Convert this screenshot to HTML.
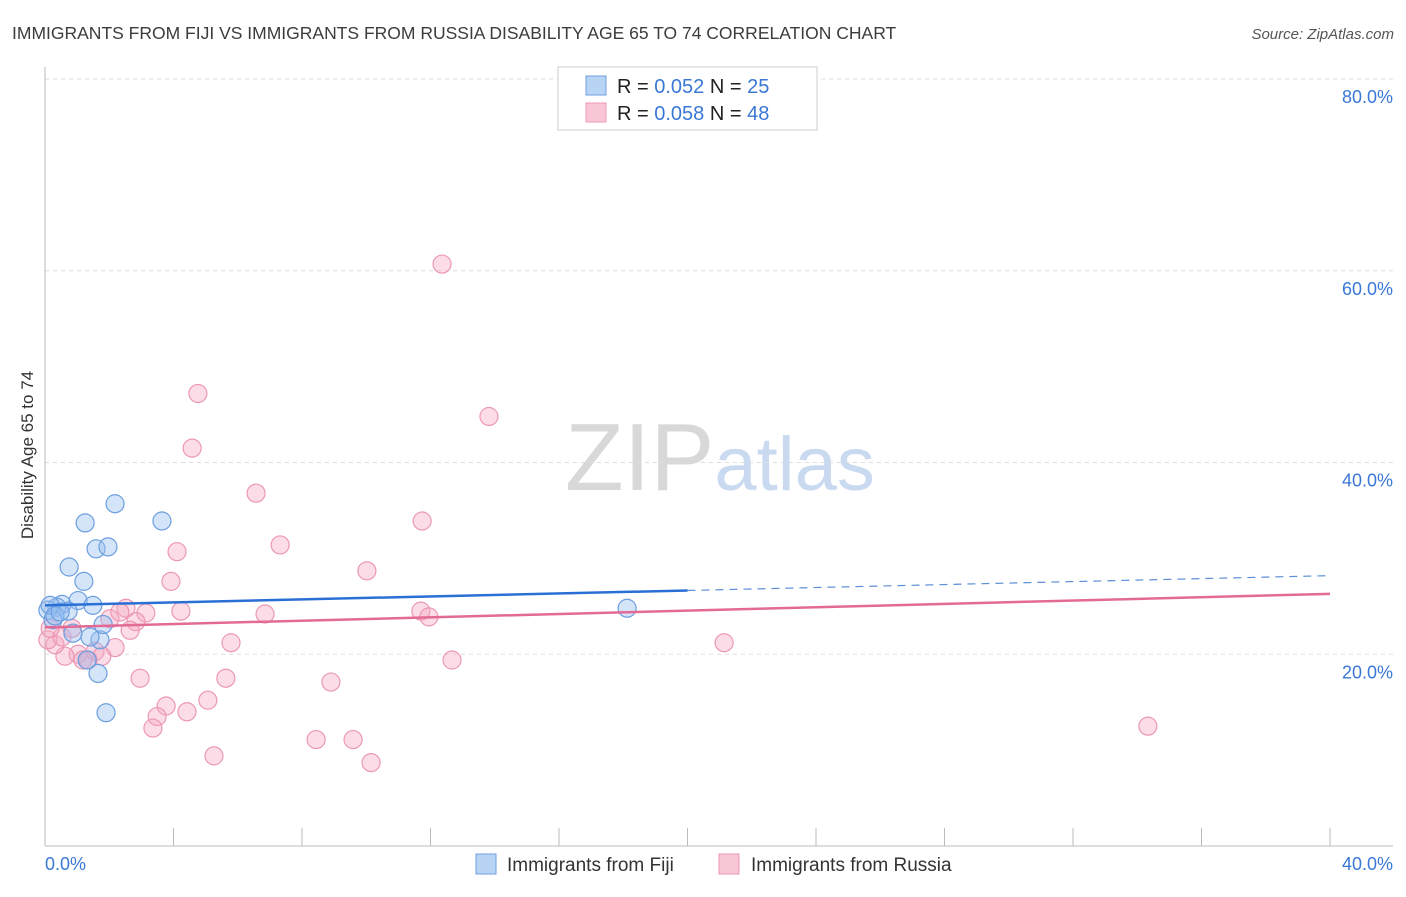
<!DOCTYPE html>
<html><head><meta charset="utf-8"><style>
body{margin:0;background:#fff;font-family:"Liberation Sans",sans-serif;}
svg text{font-family:"Liberation Sans",sans-serif;}
</style></head><body>
<svg id="chart" width="1406" height="892" viewBox="0 0 1406 892">
<text x="12" y="39" font-size="17.5" fill="#3c3c3c">IMMIGRANTS FROM FIJI VS IMMIGRANTS FROM RUSSIA DISABILITY AGE 65 TO 74 CORRELATION CHART</text>
<text x="1394" y="39" font-size="15" fill="#555" text-anchor="end" font-style="italic">Source: ZipAtlas.com</text>
<text x="720" y="490" font-size="96" fill="#ddd" text-anchor="middle" font-family="Liberation Serif"><tspan fill="#d8d8d8">ZIP</tspan><tspan fill="#c9daf0" font-family="Liberation Sans" font-size="76">atlas</tspan></text>
<text transform="translate(33,455) rotate(-90)" font-size="17" fill="#333" text-anchor="middle">Disability Age 65 to 74</text>
<g id="grid"></g><g id="axes"></g><g id="marks"></g>
<g>
<rect x="558" y="67" width="259" height="63" fill="#fff" stroke="#ccc"/>
<rect x="586" y="76" width="20" height="19" fill="#b8d4f5" stroke="#6c9fe0"/>
<rect x="586" y="103" width="20" height="19" fill="#f9c6d6" stroke="#ec98b4"/>
<text x="617" y="93" font-size="20" fill="#222">R = <tspan fill="#3a78d6">0.052</tspan>    N = <tspan fill="#3a78d6">25</tspan></text>
<text x="617" y="120" font-size="20" fill="#222">R = <tspan fill="#3a78d6">0.058</tspan>    N = <tspan fill="#3a78d6">48</tspan></text>
</g>
<g>
<rect x="476" y="854" width="20" height="20" fill="#b8d4f5" stroke="#6c9fe0"/>
<text x="507" y="871" font-size="19" fill="#333">Immigrants from Fiji</text>
<rect x="719" y="854" width="20" height="20" fill="#f9c6d6" stroke="#ec98b4"/>
<text x="751" y="871" font-size="19" fill="#333">Immigrants from Russia</text>
</g>
</svg>
<script>
const xTicks=[0,40];
const yTicks=[20,40,60,80];
const fijiX=[2.18,1.25,3.64,1.59,1.96,0.75,1.21,0.53,1.03,1.49,0.37,0.09,0.25,0.72,1.71,1.40,0.87,1.81,1.31,1.65,1.90,18.12,0.16,0.31,0.47];
const fijiY=[35.7,33.7,33.9,31.0,31.2,29.1,27.6,25.2,25.6,25.1,24.9,24.6,23.6,24.5,21.5,21.8,22.2,23.1,19.4,18.0,13.9,24.8,25.1,24.0,24.4];
const russiaX=[12.36,4.76,4.58,13.82,6.57,11.74,4.11,7.32,3.92,10.02,2.52,3.14,4.23,6.85,11.70,11.95,2.02,2.83,2.65,5.79,2.18,21.14,12.67,1.56,1.03,0.62,0.31,0.09,0.53,1.77,2.96,5.63,8.90,5.07,3.77,3.49,4.42,3.36,8.44,9.59,5.26,10.15,34.33,1.18,0.84,2.33,0.16,1.34];
const russiaY=[60.7,47.2,41.5,44.8,36.8,33.9,30.7,31.4,27.6,28.7,24.8,24.3,24.5,24.2,24.5,23.9,23.7,23.4,22.5,21.2,20.7,21.2,19.4,20.3,20.0,19.8,21.0,21.5,21.8,19.8,17.5,17.5,17.1,15.2,14.6,13.5,14.0,12.3,11.1,11.1,9.4,8.7,12.5,19.4,22.7,24.4,22.7,19.4];
const fijiTrend=[25.1,28.2];
const russiaTrend=[22.8,26.3];
const NS="http://www.w3.org/2000/svg";
const sx=v=>45+v*(1330-45)/40;
const sy=v=>846-v*(846-79)/80;
function mk(tag,attrs,parent){const e=document.createElementNS(NS,tag);for(const k in attrs)e.setAttribute(k,attrs[k]);document.getElementById(parent).appendChild(e);return e;}
yTicks.forEach(t=>{
 const l=mk('line',{x1:45,x2:1393,y1:sy(t),y2:sy(t),stroke:'#ddd','stroke-dasharray':'4,4'},'grid');
 
 
 const tx=mk('text',{x:1393,y:sy(t)+24,'font-size':18,fill:'#3a78d6','text-anchor':'end'},'grid');
 tx.textContent=t.toFixed(1)+'%';
 
 
});
const ax=mk('line',{x1:45,x2:45,y1:67,y2:846,stroke:'#bbb'},'axes');


const bx=mk('line',{x1:45,x2:1393,y1:846,y2:846,stroke:'#bbb'},'axes');


for(let i=0;i<=10;i++){
 const t=mk('line',{x1:sx(i*4),x2:sx(i*4),y1:828,y2:846,stroke:'#bbb'},'axes');
 
 
}
xTicks.forEach((t,i)=>{
 const tx=mk('text',{x:i?1393:45,y:870,'font-size':18,fill:'#3a78d6','text-anchor':i?'end':'start'},'axes');
 tx.textContent=t.toFixed(1)+'%';
 
 
});
function dots(xs,ys,fill,stroke,name){xs.forEach((x,i)=>{
 const c=mk('circle',{cx:sx(x),cy:sy(ys[i]),r:9,fill:fill,stroke:stroke,'stroke-width':1.2},'marks');
 
 
});}
dots(russiaX,russiaY,'rgba(245,168,195,0.4)','#ec98b4','russia-point');
dots(fijiX,fijiY,'rgba(150,190,240,0.4)','#6c9fe0','fiji-point');
const mid=fijiTrend[0]+(fijiTrend[1]-fijiTrend[0])*0.5;
const f1=mk('line',{x1:sx(0),y1:sy(fijiTrend[0]),x2:sx(20),y2:sy(mid),stroke:'#2a6fd6','stroke-width':2.5},'marks');


const f2=mk('line',{x1:sx(20),y1:sy(mid),x2:sx(40),y2:sy(fijiTrend[1]),stroke:'#5b8fd6','stroke-width':1.2,'stroke-dasharray':'8,6'},'marks');


const r1=mk('line',{x1:sx(0),y1:sy(russiaTrend[0]),x2:sx(40),y2:sy(russiaTrend[1]),stroke:'#e36a95','stroke-width':2.5},'marks');


</script>
</body></html>
